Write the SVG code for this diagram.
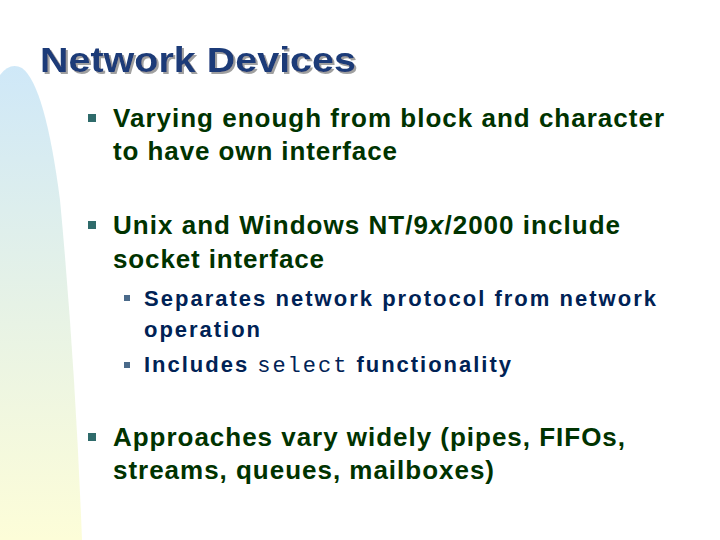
<svg xmlns="http://www.w3.org/2000/svg" width="720" height="540" viewBox="0 0 720 540">
<defs>
<linearGradient id="lg" x1="0" y1="0" x2="0" y2="1">
<stop offset="0" stop-color="#cfe8f8"/>
<stop offset="0.5" stop-color="#e6f2e6"/>
<stop offset="1" stop-color="#fdfdd8"/>
</linearGradient>
<filter id="sh" x="-5%" y="-20%" width="110%" height="140%">
<feOffset in="SourceAlpha" dx="2" dy="2" result="o"/>
<feFlood flood-color="#a0a0a0"/>
<feComposite in2="o" operator="in" result="s"/>
<feMerge><feMergeNode in="s"/><feMergeNode in="SourceGraphic"/></feMerge>
</filter>
<style>
.t{font-family:"Liberation Sans",Arial,sans-serif;font-weight:bold}
.m{font-size:26px;fill:#003300}
.s{font-size:22px;fill:#002255}
.mono{font-family:"Liberation Mono","Courier New",monospace;font-weight:normal}
</style>
</defs>
<rect width="720" height="540" fill="#fff"/>
<path d="M0,75 Q10,62 22,68 Q45,85 60,200 Q75,360 82,540 L0,540 Z" fill="url(#lg)"/>
<g id="title">
<text x="40" y="72" class="t" font-size="35" fill="#1a3a78" filter="url(#sh)" textLength="316" lengthAdjust="spacingAndGlyphs">Network Devices</text>
</g>
<g id="b1">
<rect x="88" y="114" width="8" height="8" fill="#2f6b6b"/>
<text x="113" y="127" class="t m" textLength="551">Varying enough from block and character</text>
<text x="113" y="160" class="t m" textLength="284">to have own interface</text>
</g>
<g id="b2">
<rect x="88" y="221" width="8" height="8" fill="#2f6b6b"/>
<text x="113" y="234" class="t m" textLength="507">Unix and Windows NT/9<tspan font-style="italic">x</tspan>/2000 include</text>
<text x="113" y="268" class="t m" textLength="211">socket interface</text>
</g>
<g id="b2a">
<rect x="124" y="295" width="6" height="6" fill="#4a6a8a"/>
<text x="144" y="306" class="t s" textLength="512">Separates network protocol from network</text>
<text x="144" y="337" class="t s" textLength="116">operation</text>
</g>
<g id="b2b">
<rect x="124" y="362" width="6" height="6" fill="#4a6a8a"/>
<text x="144" y="372" class="t s" textLength="367">Includes <tspan class="mono">select</tspan> functionality</text>
</g>
<g id="b3">
<rect x="88" y="433" width="8" height="8" fill="#2f6b6b"/>
<text x="113" y="446" class="t m" textLength="512">Approaches vary widely (pipes, FIFOs,</text>
<text x="113" y="479" class="t m" textLength="381">streams, queues, mailboxes)</text>
</g>
</svg>
